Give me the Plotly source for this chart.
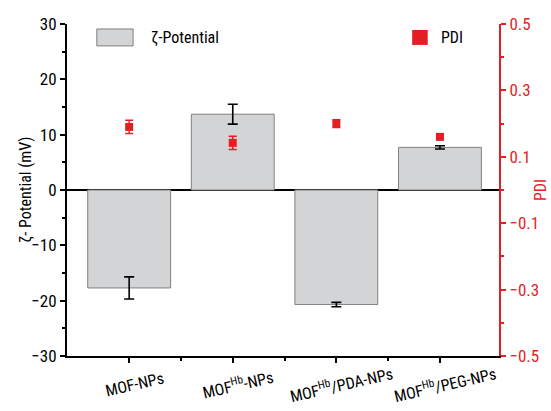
import plotly.graph_objects as go

categories = ["MOF-NPs", "MOF<sup>Hb</sup>-NPs", "MOF<sup>Hb</sup>/PDA-NPs", "MOF<sup>Hb</sup>/PEG-NPs"]
zeta = [-17.7, 13.7, -20.7, 7.7]
zeta_err = [2.0, 1.8, 0.4, 0.3]
pdi = [0.19, 0.142, 0.20, 0.16]
pdi_err = [0.02, 0.02, 0.012, 0.005]

FONT = "Liberation Sans Narrow, Arial Narrow, Roboto Condensed, sans-serif"
RED = "#e31e24"
x = list(range(len(categories)))

fig = go.Figure()
fig.add_trace(go.Bar(
    x=x, y=zeta, width=0.8,
    marker=dict(color="#d3d4d6", line=dict(color="#808080", width=1)),
    error_y=dict(type="data", array=zeta_err, color="black", thickness=1.6, width=5),
    showlegend=False,
))
fig.add_trace(go.Scatter(
    x=x, y=pdi, yaxis="y2", mode="markers",
    marker=dict(symbol="square", size=8, color=RED),
    error_y=dict(type="data", array=pdi_err, color=RED, thickness=1.4, width=4),
    showlegend=False,
))

fig.update_layout(
    width=551, height=411,
    margin=dict(l=67, r=52, t=24, b=55),
    plot_bgcolor="white", paper_bgcolor="white",
    font=dict(family=FONT, size=16, color="black"),
    xaxis=dict(
        range=[-0.6, 3.57], tickvals=x, showticklabels=False,
        showgrid=False, zeroline=False, showline=True, linecolor="black", linewidth=2,
        ticks="outside", ticklen=5, tickwidth=2, tickcolor="black",
        automargin=False,
        minor=dict(tickvals=[0.5, 1.5, 2.5], ticks="outside", ticklen=3, tickwidth=1.5, tickcolor="black"),
    ),
    yaxis=dict(
        range=[-30, 30], tickvals=[-30, -20, -10, 0, 10, 20, 30],
        showgrid=False, zeroline=True, zerolinecolor="black", zerolinewidth=2,
        showline=True, linecolor="black", linewidth=2,
        ticks="outside", ticklen=5, tickwidth=2, tickcolor="black",
        tickfont=dict(size=17), automargin=False,
        minor=dict(dtick=5, ticks="outside", ticklen=3, tickwidth=1.5, tickcolor="black"),
    ),
    yaxis2=dict(
        overlaying="y", side="right", range=[-0.5, 0.5],
        tickvals=[-0.5, -0.3, -0.1, 0.1, 0.3, 0.5],
        showgrid=False, zeroline=False,
        showline=True, linecolor=RED, linewidth=2,
        ticks="outside", ticklen=5, tickwidth=2, tickcolor=RED,
        tickfont=dict(size=17, color=RED), automargin=False,
        minor=dict(tickvals=[-0.4, -0.2, 0, 0.2, 0.4], ticks="outside", ticklen=3, tickwidth=1.5, tickcolor=RED),
    ),
)

# category labels (rotated, centred under ticks)
for xi, lab in zip(x, categories):
    fig.add_annotation(xref="x", yref="paper", x=xi, y=-0.087, xshift=5,
                       xanchor="center", yanchor="middle", textangle=-13,
                       text=lab, showarrow=False, font=dict(size=16))

# axis titles
fig.add_annotation(xref="paper", yref="paper", x=-0.097, y=0.5, xanchor="center", yanchor="middle",
                   textangle=-90, text="ζ- Potential (mV)", showarrow=False, font=dict(size=16))
fig.add_annotation(xref="paper", yref="paper", x=1.095, y=0.5, xanchor="center", yanchor="middle",
                   textangle=-90, text="PDI", showarrow=False, font=dict(size=16, color=RED))

# legend drawn manually
fig.add_shape(type="rect", xref="paper", yref="paper", x0=0.069, x1=0.153, y0=0.934, y1=0.985,
              fillcolor="#d3d4d6", line=dict(color="#808080", width=1))
fig.add_annotation(xref="paper", yref="paper", x=0.19, y=0.96, xanchor="left", yanchor="middle",
                   text="ζ-Potential", showarrow=False, font=dict(size=16))
fig.add_shape(type="rect", xref="paper", yref="paper", x0=0.799, x1=0.835, y0=0.937, y1=0.982,
              fillcolor=RED, line=dict(color=RED, width=0))
fig.add_annotation(xref="paper", yref="paper", x=0.862, y=0.96, xanchor="left", yanchor="middle",
                   text="PDI", showarrow=False, font=dict(size=16))

fig.write_html("out.html")
